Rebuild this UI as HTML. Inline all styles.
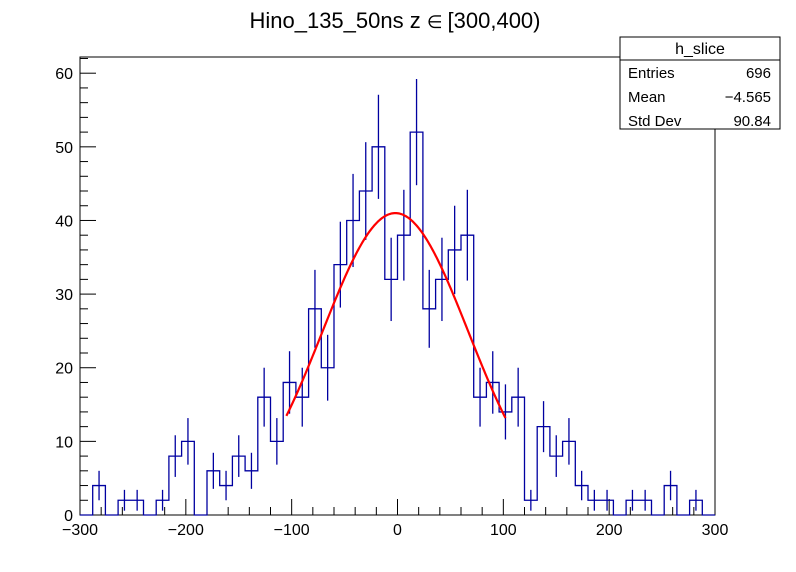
<!DOCTYPE html>
<html><head><meta charset="utf-8"><style>
body{margin:0;background:#fff}
svg{display:block;font-family:"Liberation Sans",sans-serif}
</style></head><body>
<svg id="c" width="796" height="572">
<text x="395" y="28" font-size="22" text-anchor="middle">Hino_135_50ns z <tspan font-size="18">  ∈ </tspan>[300,400)</text>
</svg>
<script>
const counts=[0,4,0,2,2,0,2,8,10,0,6,4,8,6,16,10,18,16,28,20,34,40,44,50,32,38,52,28,32,36,38,16,18,14,16,2,12,8,10,4,2,2,0,2,2,0,4,0,2,0];
const xMin=-300,xMax=300,yMin=0,yMax=62.2;
const xTicks=[-300,-200,-100,0,100,200,300];
const xTickLabels=["\u2212300","\u2212200","\u2212100","0","100","200","300"];
const yTicks=[0,10,20,30,40,50,60];
const fitParams=[41,-2,69];
const fitRange=[-105,102];
const stats=[["Entries","696"],["Mean","\u22124.565"],["Std Dev","90.84"]];
const L=80,R=715,T=57,B=515;
const X=v=>L+(v-xMin)/(xMax-xMin)*(R-L);
const Y=v=>B-(v-yMin)/(yMax-yMin)*(B-T);
const svg=document.getElementById('c');const NS='http://www.w3.org/2000/svg';
function mk(t,a,p){const e=document.createElementNS(NS,t);for(const k in a)e.setAttribute(k,a[k]);(p||svg).appendChild(e);return e;}
const frame=mk('rect',{x:L,y:T,width:R-L,height:B-T,fill:'none',stroke:'#000','stroke-width':1});


for(let v=xMin;v<=xMax;v+=20){const maj=v%100===0;const t=mk('line',{x1:X(v),x2:X(v),y1:B,y2:B-(maj?16:8),stroke:'#000'});

}
xTicks.forEach((v,i)=>{const t=mk('text',{x:X(v),y:B+20,'font-size':16,'text-anchor':'middle'});t.textContent=xTickLabels[i];

});
for(let v=0;v<=62;v+=2){const maj=v%10===0;const t=mk('line',{x1:L,x2:L+(maj?16:8),y1:Y(v),y2:Y(v),stroke:'#000'});

}
yTicks.forEach(v=>{const t=mk('text',{x:L-7,y:Y(v)+6,'font-size':16,'text-anchor':'end'});t.textContent=v;

});
const n=counts.length,w=(xMax-xMin)/n;
let d='M'+X(xMin)+','+Y(0);
counts.forEach((c,i)=>{d+=' L'+X(xMin+i*w)+','+Y(c)+' L'+X(xMin+(i+1)*w)+','+Y(c);});
d+=' L'+X(xMax)+','+Y(0);
const h=mk('path',{d:d,fill:'none',stroke:'#0000a0','stroke-width':1.3});


counts.forEach((c,i)=>{if(c<=0)return;const e=Math.sqrt(c),xc=X(xMin+(i+0.5)*w);
const b=mk('line',{x1:xc,x2:xc,y1:Y(c+e),y2:Y(c-e),stroke:'#0000a0','stroke-width':1.3});

});
let fd='';for(let x=fitRange[0];x<=fitRange[1];x+=1){const y=fitParams[0]*Math.exp(-Math.pow(x-fitParams[1],2)/(2*fitParams[2]*fitParams[2]));fd+=(fd?' L':'M')+X(x)+','+Y(y);}
const f=mk('path',{d:fd,fill:'none',stroke:'#ff0000','stroke-width':2.2});


const g=mk('g',{});


mk('rect',{x:620,y:37,width:160,height:92,fill:'#fff',stroke:'#000'},g);
mk('line',{x1:620,x2:780,y1:60,y2:60,stroke:'#000'},g);
const tt=mk('text',{x:700,y:54,'font-size':16,'text-anchor':'middle'},g);tt.textContent='h_slice';
stats.forEach((s,i)=>{const yy=78+i*24;
const a=mk('text',{x:628,y:yy,'font-size':15},g);a.textContent=s[0];


const b=mk('text',{x:771,y:yy,'font-size':15,'text-anchor':'end'},g);b.textContent=s[1];

});
</script>
</body></html>
